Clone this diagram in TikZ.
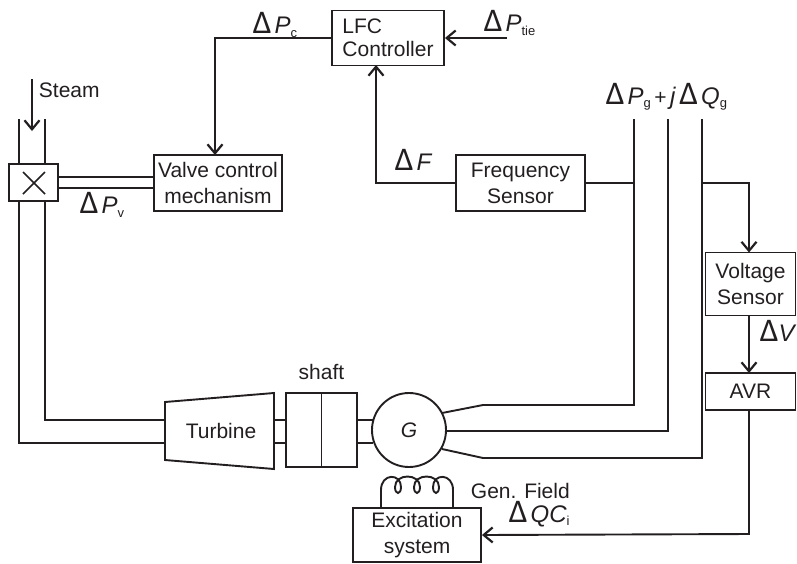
\documentclass[tikz,border=0pt]{standalone}
\usepackage{fontspec}
\setmainfont{Liberation Sans}
\newfontfamily\deltafont{Carlito}
\usetikzlibrary{arrows.meta, positioning}
\definecolor{ink}{HTML}{231F20}
\newcommand{\dP}[2]{{\deltafont\fontsize{33}{33}\selectfont Δ}\kern3pt{\fontsize{24}{24}\selectfont\textit{#1}}\raisebox{-0.3ex}{\fontsize{13}{13}\selectfont #2}}

\begin{document}
\begin{tikzpicture}[
    x=1pt, y=-1pt,
    line width=1.9pt,
    ink,
    >={Straight Barb[length=9pt, width=15pt, line width=2.2pt]},
    block/.style={draw, align=center, inner sep=0pt, font=\fontsize{21}{26}\selectfont, text=ink},
    label/.style={inner sep=0pt, font=\fontsize{21}{26}\selectfont, text=ink},
    signal/.style={->},
    pipe/.style={line width=1.6pt}
]
    \useasboundingbox (0,0) rectangle (797,563);

    % Blocchi
    \node[block, align=left, minimum width=112pt, minimum height=55pt, text depth=0pt] (lfc) at (388,38) {\raisebox{-3pt}{LFC}\\Controller};
    \node[block, minimum width=128pt, minimum height=56pt] (valve) at (218,183) {Valve control\\mechanism};
    \node[block, minimum width=129pt, minimum height=56pt] (freq) at (520.5,183) {Frequency\\Sensor};
    \node[block, minimum width=90pt, minimum height=63pt] (vsens) at (750.5,284) {Voltage\\Sensor};
    \node[block, minimum width=90pt, minimum height=37pt] (avr) at (750.5,391.5) {AVR};
    \node[block, minimum width=128pt, minimum height=54pt] (exc) at (417,535) {Excitation\\system};
    \node[block, minimum width=49pt, minimum height=37pt] (xbox) at (33.5,182.5) {};
    \draw[pipe] (23,172) -- (45,194);
    \draw[pipe] (45,172) -- (23,194);

    % Turbina, albero, generatore
    \draw (165,402) -- (274,393) -- (274,469) -- (165,460) -- cycle;
    \node[label] (turbine) at (221,431) {Turbine};
    \node[block, minimum width=71pt, minimum height=74pt] (shaft) at (321.5,430) {};
    \draw (shaft.north) -- (shaft.south);
    \node[label, above=11pt of shaft] (shaftlab) {shaft};
    \node[block, circle, minimum size=74pt] (gen) at (409,430) {\textit{G}};

    % Condotto del vapore
    \draw[signal] (32,79) coordinate (steam) -- (32,131);
    \node[label, anchor=west] (steamlab) at (38,90) {Steam};
    \draw (19,119) -- (19,164);
    \draw (45,119) -- (45,164);
    \draw (19,201) -- (19,443) -- (165,443);
    \draw (45,201) -- (45,420) -- (165,420);
    \draw (274,420) -- (286,420);
    \draw (274,443) -- (286,443);
    \draw (357,420) -- (373,420);
    \draw (357,443) -- (373,443);
    \draw ([yshift=5.5pt]xbox.east) -- (154,177);
    \draw ([yshift=-5.5pt]xbox.east) -- (154,188);

    % Uscite del generatore
    \coordinate (pg) at (634,119);
    \coordinate (jq) at (668,119);
    \coordinate (qg) at (702,119);
    \draw (442,413) -- (483,405) -- (634,405) -- (pg);
    \draw (445,431) -- (668,431) -- (jq);
    \draw (442,449) -- (483,458) -- (702,458) -- (qg);

    % Anelli di controllo
    \draw[signal] (lfc.west) -- (215,38) -- (215,155);
    \coordinate (tie) at (507,38);
    \draw[signal] (tie) -- (lfc.east);
    \draw[signal] (freq.west) -- (376,183) -- (376,65);
    \draw (freq.east) -- (634,183);
    \draw[signal] (703,183) -- (749,183) -- (749,252.5);
    \draw[signal] (749,315.5) -- (749,373);
    \draw[signal] (749,410) -- (749,534) -- (exc.east);

    % Bobina di campo
    \draw (381,508) -- (381,490) .. controls (381,473) and (401,473) .. (401,487)
        .. controls (401,495) and (395,495) .. (395,487)
        .. controls (395,473) and (420,473) .. (420,487)
        .. controls (420,495) and (414,495) .. (414,487)
        .. controls (414,473) and (439,473) .. (439,487)
        .. controls (439,495) and (433,495) .. (433,487)
        .. controls (433,473) and (453,473) .. (453,490) -- (453,508);

    % Etichette
    \node[label, anchor=west] (genfield) at (470,491) {Gen. Field};
    \node[label, anchor=west] (dpc) at (252,25) {\dP{P}{c}};
    \node[label, anchor=west] (dptie) at (483,23) {\dP{P}{tie}};
    \node[label, anchor=west] (dpv) at (79,205) {\dP{P}{v}};
    \node[label, anchor=west] (df) at (394,162) {\dP{F}{}};
    \node[label, anchor=west] (dv) at (759,333) {\dP{\kern-3pt V}{}};
    \node[label, anchor=west] (dqc) at (508,514) {\dP{QC}{i}};
    \node[label, anchor=west] (dsum) at (605,97) {\dP{P}{g}\,+\,{\fontsize{24}{24}\selectfont\textit{j}}\,\dP{Q}{g}};

\end{tikzpicture}
\end{document}
